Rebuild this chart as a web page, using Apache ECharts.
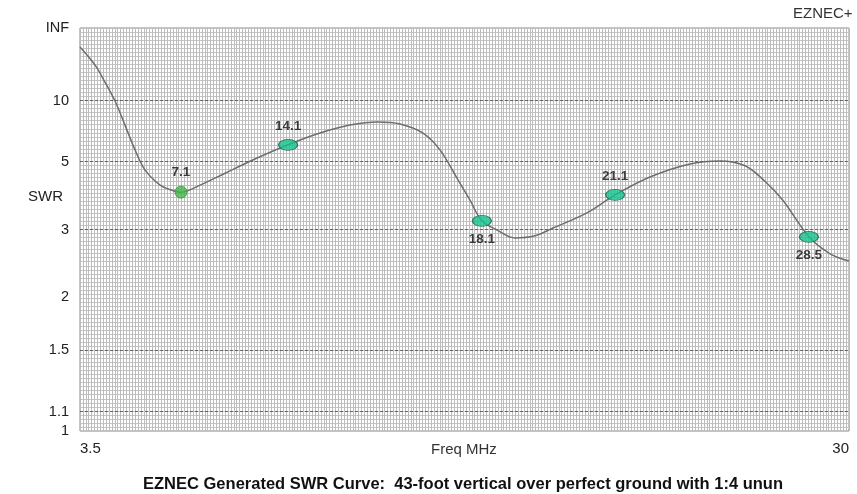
<!DOCTYPE html>
<html>
<head>
<meta charset="utf-8">
<script src="https://cdn.jsdelivr.net/npm/echarts@6/dist/echarts.min.js"></script>
<style>
html,body{margin:0;padding:0;background:#fff;}
#chart{width:857px;height:494px;}
</style>
</head>
<body>
<div id="chart"></div>
<script>
// Curve: x position (in axis MHz units, 3.5..30) and SWR
const curveFreq = [3.5, 4.02, 4.36, 4.71, 5.05, 5.40, 5.74, 6.26, 6.67, 6.98, 7.64, 8.50, 9.36, 10.67, 11.77, 12.80, 13.77, 14.53, 15.32, 15.91, 16.53, 16.94, 17.35, 17.87, 18.49, 19.18, 19.80, 20.97, 21.94, 23.14, 24.52, 25.56, 26.42, 27.11, 27.72, 28.62, 29.35, 30.0];
const curveSwr  = [41.5, 20.7, 13.9, 10.0, 7.3, 5.6, 4.68, 4.13, 3.97, 3.91, 4.13, 4.55, 5.05, 5.9, 6.67, 7.3, 7.58, 7.4, 6.67, 5.6, 4.3, 3.68, 3.18, 2.99, 2.84, 2.88, 3.03, 3.36, 3.83, 4.41, 4.93, 5.06, 4.85, 4.25, 3.68, 2.86, 2.57, 2.46];

// Marked points
const markerLabels = ['7.1', '14.1', '18.1', '21.1', '28.5'];
const markerFreq   = [6.98, 10.67, 17.35, 21.94, 28.62];
const markerSwr    = [3.91, 5.9, 3.18, 3.83, 2.86];
const markerLabelPos = ['top', 'top', 'bottom', 'top', 'bottom'];

// Axis tick labels
const yTickSwr    = [1, 1.1, 1.5, 2, 3, 5, 10, Infinity];
const yTickLabels = ['1', '1.1', '1.5', '2', '3', '5', '10', 'INF'];
const yMajorSwr   = [1.1, 1.5, 3, 5, 10];
const xTickValues = [3.5, 30];
const xTickLabels = ['3.5', '30'];

// SWR -> reflection coefficient (EZNEC plots SWR on a |rho| scale)
function rho(s) { return s === Infinity ? 1 : (s - 1) / (s + 1); }

const yTickRho = yTickSwr.map(rho);
const FONT = 'Liberation Sans, Arial, sans-serif';

const chart = echarts.init(document.getElementById('chart'));
chart.setOption({
  animation: false,
  backgroundColor: '#fff',
  grid: { left: 80, right: 8, top: 28, bottom: 63, show: true, borderColor: '#888', borderWidth: 1, backgroundColor: 'transparent' },
  xAxis: [
    {
      type: 'value', min: 3.5, max: 30,
      axisLine: { show: false }, axisTick: { show: false }, splitLine: { show: false },
      axisLabel: {
        customValues: xTickValues, margin: 10, color: '#222', fontSize: 15, fontFamily: FONT,
        alignMinLabel: 'left', alignMaxLabel: 'right',
        formatter: v => { const i = xTickValues.findIndex(t => Math.abs(t - v) < 1e-6); return i >= 0 ? xTickLabels[i] : ''; }
      }
    },
    {
      type: 'value', min: 3.5, max: 30, interval: 0.1,
      axisLine: { show: false }, axisTick: { show: false }, axisLabel: { show: false },
      splitLine: { show: true, lineStyle: { color: '#bcbcbc', width: 1 } }
    }
  ],
  yAxis: [
    {
      type: 'value', min: 0, max: 1,
      axisLine: { show: false }, axisTick: { show: false }, splitLine: { show: false },
      axisLabel: {
        customValues: yTickRho, margin: 11, color: '#222', fontSize: 14.5, fontFamily: FONT,
        formatter: v => { const i = yTickRho.findIndex(t => Math.abs(t - v) < 1e-6); return i >= 0 ? yTickLabels[i] : ''; }
      }
    },
    {
      type: 'value', min: 0, max: 1, interval: 0.01,
      axisLine: { show: false }, axisTick: { show: false }, axisLabel: { show: false },
      splitLine: { show: true, lineStyle: { color: '#c4c4c4', width: 1 } }
    }
  ],
  series: [
    {
      type: 'line', xAxisIndex: 0, yAxisIndex: 0,
      data: curveFreq.map((f, i) => [f, rho(curveSwr[i])]),
      smooth: 0.35, showSymbol: false, symbol: 'none',
      lineStyle: { color: '#6e6e6e', width: 1.5 },
      markLine: {
        silent: true, symbol: 'none', label: { show: false },
        lineStyle: { color: '#666', type: [3, 2], width: 1 },
        data: yMajorSwr.map(s => ({ yAxis: rho(s) }))
      },
      z: 3
    },
    {
      type: 'scatter', xAxisIndex: 0, yAxisIndex: 0,
      data: markerFreq.map((f, i) => ({
        value: [f, rho(markerSwr[i])],
        symbolSize: i === 0 ? 12 : [19, 11],
        itemStyle: i === 0 ? { color: '#44b54a', borderColor: '#3a9a40', borderWidth: 1 } : { color: '#12c28e', borderColor: '#1f5a44', borderWidth: 1 },
        label: { show: true, position: markerLabelPos[i], distance: 6, formatter: markerLabels[i] }
      })),
      symbol: 'circle',
      label: { color: '#111', fontSize: 13.5, fontWeight: 'bold', fontFamily: FONT },
      z: 5
    }
  ],
  graphic: [
    { type: 'text', left: 793, top: 6, style: { text: 'EZNEC+', font: '15px ' + FONT, fill: '#333' } },
    { type: 'text', left: 28, top: 189, style: { text: 'SWR', font: '15px ' + FONT, fill: '#222' } },
    { type: 'text', left: 431, top: 442, style: { text: 'Freq MHz', font: '15px ' + FONT, fill: '#333' } },
    { type: 'text', x: 463, y: 476, style: { text: 'EZNEC Generated SWR Curve:  43-foot vertical over perfect ground with 1:4 unun', font: 'bold 16.5px ' + FONT, fill: '#111', textAlign: 'center' } }
  ]
});
</script>
</body>
</html>
